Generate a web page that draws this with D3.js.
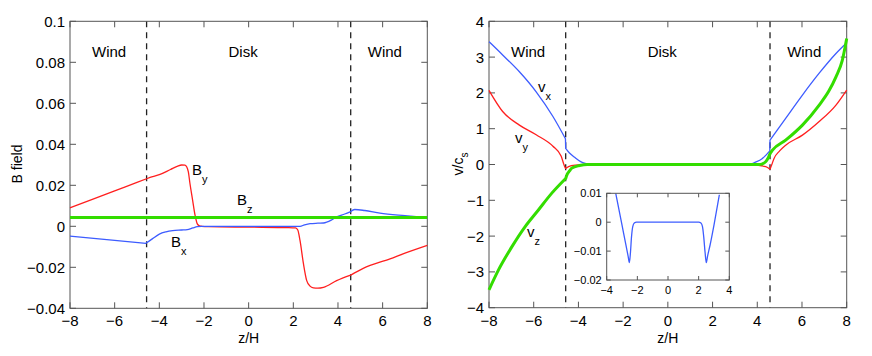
<!DOCTYPE html>
<html><head><meta charset="utf-8">
<script src="https://cdn.jsdelivr.net/npm/d3@7"></script>
<style>
html,body{margin:0;padding:0;background:#fff;}
svg text{font-family:"Liberation Sans",Arial,Helvetica,sans-serif;fill:#000;}
</style></head>
<body><svg id="c" width="872" height="356"></svg>
<script>
// ---------- data ----------
const xTicks = [-8,-6,-4,-2,0,2,4,6,8];
const bTicks = [0.1,0.08,0.06,0.04,0.02,0,-0.02,-0.04];
const vTicks = [4,3,2,1,0,-1,-2,-3,-4];
const insetXTicks = [-4,-2,0,2,4];
const insetYTicks = [0.01,0,-0.01,-0.02];
const regionNames = ["Wind","Disk","Wind"];
const boundaries = [-4.57, 4.57];

// Left panel: magnetic field
const byZ = [-8,-7,-6,-5,-4.57,-4.3,-4,-3.5,-3.2,-3.0,-2.85,-2.77,-2.7,-2.63,-2.51,-2.4,-2.3,-2.2,-2.1,-1.8,0,1.8,2.1,2.2,2.3,2.45,2.6,2.75,2.9,3.1,3.35,3.94,4.57,5.13,6.33,7,8];
const byV = [0.009,0.0131,0.0173,0.0214,0.0232,0.0242,0.0252,0.0277,0.0292,0.0299,0.0298,0.0289,0.0265,0.021,0.0128,0.0054,0.0012,0.0002,0.0,-0.0002,-0.0004,-0.0006,-0.0008,-0.0018,-0.0069,-0.018,-0.0265,-0.0292,-0.0300,-0.0302,-0.0298,-0.0265,-0.0238,-0.0205,-0.0159,-0.0131,-0.0093];
const byBreaks = [-4.57, 4.57];
const bxZ = [-8,-6,-4.6,-4.3,-4,-3.7,-3.4,-3.0,-2.75,-2.5,-2.3,-2.1,0,2.3,2.5,2.75,3.1,3.35,3.7,3.94,4.3,4.57,4.75,5.2,5.88,7,8];
const bxV = [-0.0048,-0.0069,-0.0083,-0.006,-0.0038,-0.0027,-0.0021,-0.0018,-0.0016,-0.0008,-0.0002,0,0,0,0.0007,0.0013,0.0015,0.0016,0.003,0.0046,0.006,0.0072,0.0082,0.0077,0.0064,0.0052,0.0043];
const bxBreaks = [-4.6, 4.57];
const bzZ = [-8,8];
const bzV = [0.0043,0.0043];

// Right panel: velocities
const vxZ = [-8,-7.39,-6.64,-5.89,-5.14,-4.58,-4.57,-4.4,-4.17,-3.9,-3.7,-3.4,3.4,3.63,3.9,4.23,4.4,4.56,4.57,5.27,6.02,6.77,7.52,8];
const vxV = [3.43,3.06,2.59,2.03,1.34,0.72,0.45,0.32,0.2,0.08,0.03,0,0,0,0.06,0.17,0.27,0.38,0.68,1.29,1.94,2.55,3.1,3.4];
const vxBreaks = [-4.58,-4.57,4.56,4.57];
const vyZ = [-8,-7.39,-6.64,-5.89,-5.14,-4.77,-4.65,-4.58,-4.5,-4.44,-4.14,-3.7,-3.3,3.3,3.7,4.0,4.38,4.57,4.65,4.75,5.0,5.27,6.02,6.77,7.52,8];
const vyV = [2.07,1.48,1.1,0.83,0.51,0.23,0.0,-0.11,-0.08,-0.06,-0.02,-0.005,0,0,-0.01,-0.02,-0.06,-0.13,0.0,0.17,0.38,0.54,0.82,1.2,1.66,2.08];
const vyBreaks = [-4.58, 4.57];
const vzZ = [-8,-7.58,-6.98,-6.39,-5.79,-5.19,-4.57,-4.5,-4.4,-4.29,-3.95,-3.6,4.08,4.2,4.38,4.5,4.57,4.68,5.27,6.02,6.77,7.2,7.52,7.8,8];
const vzV = [-3.5,-2.95,-2.30,-1.74,-1.27,-0.80,-0.39,-0.27,-0.18,-0.1,-0.03,0,0,0.01,0.08,0.2,0.3,0.4,0.68,1.1,1.66,2.05,2.45,2.9,3.52];
const vzBreaks = [-4.57];

// Inset
const inZ = [-3.41,-3.0,-2.75,-2.6,-2.52,-2.45,-2.38,-2.3,-2.2,-2.05,0,2.0,2.15,2.25,2.33,2.42,2.5,2.58,2.75,3.0,3.35];
const inV = [0.01,-0.001,-0.0078,-0.0118,-0.014,-0.0105,-0.005,-0.0015,-0.0003,0,0,0,-0.0003,-0.0015,-0.005,-0.0105,-0.014,-0.0118,-0.0078,-0.001,0.0095];
const inBreaks = [];

// ---------- drawing ----------
const svg = d3.select("#c");
const RED = "#ff1f1f", BLUE = "#3d5cff", GREEN = "#33dd00", FRAME = "#555";
const fmt = v => (v < 0 ? "\u2212" : "") + String(Math.abs(v));

function frame(g, x, y, xt, yt, fs, tick, xlabOffset) {
  const [x0,x1] = x.range(), [y1,y0] = y.range();
  g.append("rect").attr("x",x0).attr("y",y0).attr("width",x1-x0).attr("height",y1-y0)
    .attr("fill","none").attr("stroke",FRAME).attr("stroke-width",1);
  xt.forEach(t => {
    const px = x(t);
    g.append("line").attr("x1",px).attr("x2",px).attr("y1",y1).attr("y2",y1-tick).attr("stroke",FRAME);
    g.append("line").attr("x1",px).attr("x2",px).attr("y1",y0).attr("y2",y0+tick).attr("stroke",FRAME);
    g.append("text").attr("x",px).attr("y",y1+xlabOffset).attr("text-anchor","middle").attr("font-size",fs).text(fmt(t));
  });
  yt.forEach(t => {
    const py = y(t);
    g.append("line").attr("x1",x0).attr("x2",x0+tick).attr("y1",py).attr("y2",py).attr("stroke",FRAME);
    g.append("line").attr("x1",x1).attr("x2",x1-tick).attr("y1",py).attr("y2",py).attr("stroke",FRAME);
    g.append("text").attr("x",x0-5).attr("y",py+fs*0.36).attr("text-anchor","end").attr("font-size",fs).text(fmt(t));
  });
}

// draws a series as smooth pieces, split (sharing the point) at break positions
function series(g, x, y, zs, vs, breaks, color, w) {
  const pts = zs.map((z,i)=>[z,vs[i]]);
  const pieces = [[]];
  pts.forEach(p => {
    pieces[pieces.length-1].push(p);
    if (breaks.includes(p[0])) pieces.push([p]);
  });
  const line = d3.line().x(d => x(d[0])).y(d => y(d[1])).curve(d3.curveMonotoneX);
  let d = "";
  pieces.filter(pc => pc.length > 1).forEach((pc,i) => {
    let s = line(pc);
    if (i > 0) s = "L" + s.slice(1);
    d += s;
  });
  g.append("path").attr("d",d)
    .attr("fill","none").attr("stroke",color).attr("stroke-width",w).attr("stroke-linejoin","round");
}

function sublabel(g, px, py, main, sub) {
  const t = g.append("text").attr("x",px).attr("y",py).attr("font-size",15);
  t.append("tspan").text(main);
  t.append("tspan").attr("dy",8).attr("font-size",11).text(sub);
}

function panel(xr, yr, ydom, yt) {
  const g = svg.append("g");
  const x = d3.scaleLinear().domain([-8,8]).range(xr);
  const y = d3.scaleLinear().domain(ydom).range(yr);
  boundaries.forEach(b => {
    g.append("line").attr("x1",x(b)).attr("x2",x(b)).attr("y1",yr[1]).attr("y2",yr[0])
      .attr("stroke","#222").attr("stroke-width",1.3).attr("stroke-dasharray","6,5");
  });
  frame(g, x, y, xTicks, yt, 15, 6, 18);
  [-6.25,-0.25,6.1].forEach((z,i) => {
    g.append("text").attr("x",x(z)).attr("y",57).attr("text-anchor","middle").attr("font-size",15).text(regionNames[i]);
  });
  g.append("text").attr("x",(xr[0]+xr[1])/2).attr("y",343).attr("text-anchor","middle").attr("font-size",14).text("z/H");
  return {g,x,y};
}

// Left panel
const L = panel([70,427.3],[308.3,21.3],[-0.04,0.1],bTicks);
series(L.g, L.x, L.y, byZ, byV, byBreaks, RED, 1.3);
series(L.g, L.x, L.y, bxZ, bxV, bxBreaks, BLUE, 1.3);
series(L.g, L.x, L.y, bzZ, bzV, [], GREEN, 3);
L.g.append("text").attr("transform","translate(22,164) rotate(-90)").attr("text-anchor","middle").attr("font-size",14).text("B field");
sublabel(L.g, 192, 175, "B", "y");
sublabel(L.g, 237, 205, "B", "z");
sublabel(L.g, 171, 247, "B", "x");

// Right panel
const R = panel([489,846.7],[307.7,21.3],[-4,4],vTicks);
series(R.g, R.x, R.y, vyZ, vyV, vyBreaks, RED, 1.3);
series(R.g, R.x, R.y, vxZ, vxV, vxBreaks, BLUE, 1.3);
series(R.g, R.x, R.y, vzZ, vzV, vzBreaks, GREEN, 3);
{
  const t = R.g.append("text").attr("transform","translate(463,164) rotate(-90)").attr("text-anchor","middle").attr("font-size",14);
  t.append("tspan").text("v/c");
  t.append("tspan").attr("dy",5).attr("font-size",10).text("s");
}
sublabel(R.g, 538, 92, "v", "x");
sublabel(R.g, 515, 143, "v", "y");
sublabel(R.g, 527, 237, "v", "z");

// Inset
{
  const g = svg.append("g");
  const x = d3.scaleLinear().domain([-4,4]).range([606.7,729.3]);
  const y = d3.scaleLinear().domain([-0.02,0.01]).range([280,193.3]);
  g.append("rect").attr("x",606.7).attr("y",193.3).attr("width",122.6).attr("height",86.7).attr("fill","#fff");
  g.append("clipPath").attr("id","ic").append("rect").attr("x",606.7).attr("y",193.3).attr("width",122.6).attr("height",86.7);
  const sg = g.append("g").attr("clip-path","url(#ic)");
  series(sg, x, y, inZ, inV, inBreaks, BLUE, 1.3);
  frame(g, x, y, insetXTicks, insetYTicks, 11, 4, 14);
}
</script></body></html>
